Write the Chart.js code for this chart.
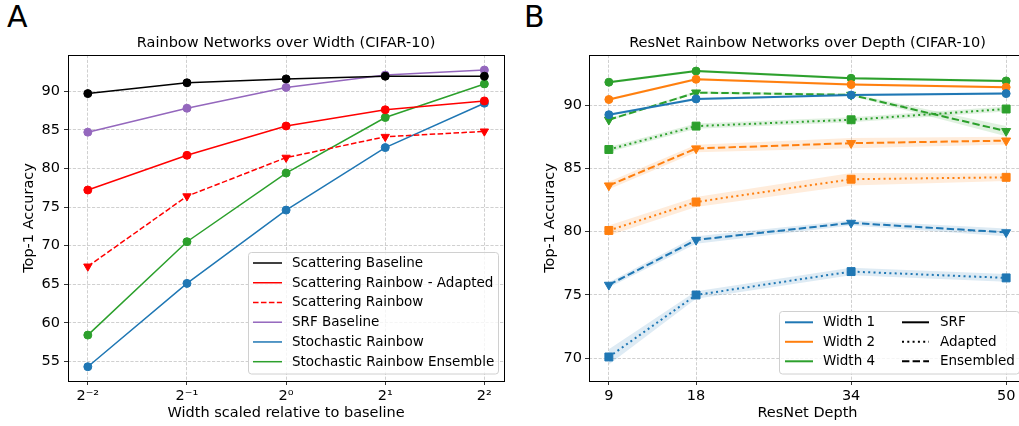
<!DOCTYPE html>
<html>
<head>
<meta charset="utf-8">
<script src="https://cdn.jsdelivr.net/npm/chart.js@4"></script>
<style>
  html, body { margin:0; padding:0; background:#fff; overflow:hidden; width:1019px; height:426px; }
  #wrap { position:relative; width:1019px; height:426px; overflow:hidden; }
  canvas { position:absolute; top:0; }
  .panel { position:absolute; font-family:'DejaVu Sans'; font-size:30px; line-height:30px; color:#000; }
</style>
</head>
<body>
<div id="wrap">
  <div class="panel" style="left:7px; top:2px;">A</div>
  <div class="panel" style="left:524px; top:2px;">B</div>
  <canvas id="c1" style="left:0px; width:510px; height:426px;" width="510" height="426"></canvas>
  <canvas id="c2" style="left:509px; width:530px; height:426px;" width="530" height="426"></canvas>
</div>
<script>
// ---------- Panel A data ----------
const widths = [0.25, 0.5, 1, 2, 4];
const widthTickLabels = ['2\u207B\u00B2', '2\u207B\u00B9', '2\u2070', '2\u00B9', '2\u00B2'];
const scatteringBaseline       = [89.7, 91.1, 91.6, 91.95, 91.95];
const scatteringRainbowAdapted = [77.2, 81.7, 85.5, 87.6, 88.75];
const scatteringRainbow        = [67.3, 76.4, 81.4, 84.1, 84.8];
const srfBaseline              = [84.7, 87.8, 90.5, 92.1, 92.75];
const stochasticRainbow        = [54.3, 65.1, 74.6, 82.7, 88.45];
const stochasticEnsemble       = [58.4, 70.5, 79.4, 86.6, 90.95];
const leftYTicks = [55, 60, 65, 70, 75, 80, 85, 90];
const leftLegendLabels = ['Scattering Baseline', 'Scattering Rainbow - Adapted', 'Scattering Rainbow',
                          'SRF Baseline', 'Stochastic Rainbow', 'Stochastic Rainbow Ensemble'];

// ---------- Panel B data ----------
const depths = [9, 18, 34, 50];
const w1SRF       = [89.25, 90.5, 90.8, 90.92];
const w1SRFStd    = [0.1, 0.1, 0.1, 0.1];
const w1Adapted   = [70.1, 75.0, 76.85, 76.35];
const w1AdaptedStd= [0.6, 0.3, 0.3, 0.3];
const w1Ens       = [75.8, 79.35, 80.7, 79.95];
const w1EnsStd    = [0.2, 0.3, 0.2, 0.3];
const w2SRF       = [90.45, 92.05, 91.63, 91.42];
const w2SRFStd    = [0.1, 0.1, 0.1, 0.1];
const w2Adapted   = [80.1, 82.35, 84.15, 84.3];
const w2AdaptedStd= [0.4, 0.4, 0.5, 0.3];
const w2Ens       = [83.65, 86.58, 87.0, 87.2];
const w2EnsStd    = [0.3, 0.3, 0.4, 0.3];
const w4SRF       = [91.82, 92.7, 92.13, 91.92];
const w4SRFStd    = [0.1, 0.1, 0.1, 0.1];
const w4Adapted   = [86.5, 88.35, 88.85, 89.7];
const w4AdaptedStd= [0.2, 0.2, 0.2, 0.2];
const w4Ens       = [88.85, 91.0, 90.82, 87.95];
const w4EnsStd    = [0.1, 0.1, 0.1, 0.4];
const rightYTicks = [70, 75, 80, 85, 90];
const rightLegendWidths  = ['Width 1', 'Width 2', 'Width 4'];
const rightLegendMethods = ['SRF', 'Adapted', 'Ensembled'];

// ---------- styling ----------
Chart.defaults.font.family = 'DejaVu Sans';
Chart.defaults.font.size = 14.5;
Chart.defaults.color = '#000';
const FS = 14.5;

const BLUE = '#1f77b4', ORANGE = '#ff7f0e', GREEN = '#2ca02c', PURPLE = '#9467bd', RED = '#ff0000', BLACK = '#000000';
function rgba(hex, a) {
  const n = parseInt(hex.slice(1), 16);
  return `rgba(${(n>>16)&255},${(n>>8)&255},${n&255},${a})`;
}
const GRID = { color: '#c4c4c4', lineWidth: 0.8, tickColor: '#000', tickLength: 4, tickWidth: 0.8, tickBorderDash: [] };
const BORDER = { display: false, dash: [3.2, 1.6] };

const framePlugin = {
  id: 'frame',
  afterDraw(chart) {
    const { ctx, chartArea: a } = chart;
    ctx.save();
    ctx.strokeStyle = '#000';
    ctx.lineWidth = 1;
    ctx.setLineDash([]);
    ctx.strokeRect(Math.round(a.left) + 0.5, Math.round(a.top) + 0.5,
                   Math.round(a.right) - Math.round(a.left), Math.round(a.bottom) - Math.round(a.top));
    ctx.restore();
  }
};

const legendPlugin = {
  id: 'boxLegend',
  afterDraw(chart, args, opts) {
    if (!opts || !opts.items) return;
    const ctx = chart.ctx;
    const b = opts.box;
    ctx.save();
    ctx.beginPath();
    const r = 3;
    ctx.moveTo(b.x + r, b.y);
    ctx.arcTo(b.x + b.w, b.y, b.x + b.w, b.y + b.h, r);
    ctx.arcTo(b.x + b.w, b.y + b.h, b.x, b.y + b.h, r);
    ctx.arcTo(b.x, b.y + b.h, b.x, b.y, r);
    ctx.arcTo(b.x, b.y, b.x + b.w, b.y, r);
    ctx.closePath();
    ctx.fillStyle = 'rgba(255,255,255,0.8)';
    ctx.fill();
    ctx.strokeStyle = '#d0d0d0';
    ctx.lineWidth = 1;
    ctx.stroke();
    ctx.font = '13.5px "DejaVu Sans"';
    ctx.textBaseline = 'middle';
    ctx.textAlign = 'left';
    opts.items.forEach(it => {
      ctx.beginPath();
      ctx.setLineDash(it.dash || []);
      ctx.lineCap = 'butt';
      ctx.strokeStyle = it.color;
      ctx.lineWidth = opts.lineWidth;
      ctx.moveTo(it.x0, it.y);
      ctx.lineTo(it.x1, it.y);
      ctx.stroke();
      ctx.setLineDash([]);
      ctx.fillStyle = '#000';
      ctx.fillText(it.label, it.tx, it.y + 0.5);
    });
    ctx.restore();
  }
};

function pts(xs, ys) { return xs.map((x, i) => ({ x: x, y: ys[i] })); }

// ---------- Panel A ----------
function lineA(label, ys, color, style, dash) {
  return {
    label, data: pts(widths, ys), borderColor: color, backgroundColor: color,
    borderWidth: 1.5, borderDash: dash || [], pointStyle: style,
    pointRadius: style === 'triangle' ? 4.8 : 4, pointRotation: style === 'triangle' ? 180 : 0,
    pointBorderWidth: 1, pointBorderColor: color, pointBackgroundColor: color,
    tension: 0, fill: false
  };
}
const leftColors = [BLACK, RED, RED, PURPLE, BLUE, GREEN];
const leftDashes = [[], [], [5.55, 2.4], [], [], []];
const leftItems = leftLegendLabels.map((l, i) => ({
  label: l, color: leftColors[i], dash: leftDashes[i], x0: 253, x1: 282, tx: 292, y: 263 + i * 19.74
}));

new Chart(document.getElementById('c1'), {
  type: 'line',
  data: {
    datasets: [
      lineA('Scattering Baseline', scatteringBaseline, BLACK, 'circle'),
      lineA('Scattering Rainbow - Adapted', scatteringRainbowAdapted, RED, 'circle'),
      lineA('Scattering Rainbow', scatteringRainbow, RED, 'triangle', [5.55, 2.4]),
      lineA('SRF Baseline', srfBaseline, PURPLE, 'circle'),
      lineA('Stochastic Rainbow', stochasticRainbow, BLUE, 'circle'),
      lineA('Stochastic Rainbow Ensemble', stochasticEnsemble, GREEN, 'circle')
    ]
  },
  options: {
    responsive: false, animation: false, devicePixelRatio: 1,
    layout: { padding: { left: 0, right: 5, top: 0, bottom: 0 } },
    plugins: {
      legend: { display: false }, tooltip: { enabled: false },
      title: { display: true, text: 'Rainbow Networks over Width (CIFAR-10)', fullSize: false,
               font: { size: FS, weight: 'normal' }, padding: { top: 34.3, bottom: 3.3 } },
      boxLegend: { box: { x: 248.5, y: 252.5, w: 250, h: 121.5 }, lineWidth: 1.5, items: leftItems }
    },
    scales: {
      x: {
        type: 'logarithmic', min: Math.pow(2, -2.2), max: Math.pow(2, 2.2),
        afterBuildTicks: s => { s.ticks = widths.map(v => ({ value: v })); },
        afterFit: s => { s.height = 45; },
        ticks: { autoSkip: false, maxRotation: 0, padding: 3, font: { size: FS },
                 callback: (v) => { const i = widths.indexOf(v); return i >= 0 ? widthTickLabels[i] : ''; } },
        grid: GRID, border: BORDER,
        title: { display: true, text: 'Width scaled relative to baseline', font: { size: FS }, padding: { top: 0, bottom: 4.3 } }
      },
      y: {
        type: 'linear', min: 52.45, max: 94.7,
        afterBuildTicks: s => { s.ticks = leftYTicks.map(v => ({ value: v })); },
        afterFit: s => { s.width = 68; },
        ticks: { padding: 4, font: { size: FS } },
        grid: GRID, border: BORDER,
        title: { display: true, text: 'Top-1 Accuracy', font: { size: FS }, padding: { top: 20.3, bottom: 0 } }
      }
    }
  },
  plugins: [framePlugin, legendPlugin]
});

// ---------- Panel B ----------
const rightSeries = [
  { color: BLUE,   srf: w1SRF, srfStd: w1SRFStd, ad: w1Adapted, adStd: w1AdaptedStd, en: w1Ens, enStd: w1EnsStd },
  { color: ORANGE, srf: w2SRF, srfStd: w2SRFStd, ad: w2Adapted, adStd: w2AdaptedStd, en: w2Ens, enStd: w2EnsStd },
  { color: GREEN,  srf: w4SRF, srfStd: w4SRFStd, ad: w4Adapted, adStd: w4AdaptedStd, en: w4Ens, enStd: w4EnsStd }
];
const DOT = [2, 3.3], DASH = [7.4, 3.2];
const rightDatasets = [];
function addBand(mean, std, color) {
  rightDatasets.push({ data: pts(depths, mean.map((m, i) => m - std[i])), borderWidth: 0, borderColor: 'rgba(0,0,0,0)',
    pointRadius: 0, fill: false, order: 10, tension: 0 });
  rightDatasets.push({ data: pts(depths, mean.map((m, i) => m + std[i])), borderWidth: 0, borderColor: 'rgba(0,0,0,0)',
    pointRadius: 0, fill: '-1', backgroundColor: rgba(color, 0.15), order: 10, tension: 0 });
}
function addLine(mean, color, style, dash) {
  let r = 4;
  if (style === 'rect') r = 5.6;
  if (style === 'triangle') r = 5.2;
  rightDatasets.push({ data: pts(depths, mean), borderColor: color, backgroundColor: color, borderWidth: 2,
    borderDash: dash, pointStyle: style, pointRadius: r, pointRotation: style === 'triangle' ? 180 : 0,
    pointBackgroundColor: color, pointBorderColor: color, pointBorderWidth: 1, fill: false, order: 0, tension: 0 });
}
rightSeries.forEach(s => {
  addBand(s.srf, s.srfStd, s.color);
  addBand(s.ad, s.adStd, s.color);
  addBand(s.en, s.enStd, s.color);
});
rightSeries.forEach(s => {
  addLine(s.srf, s.color, 'circle', []);
  addLine(s.ad, s.color, 'rect', DOT);
  addLine(s.en, s.color, 'triangle', DASH);
});

const OX = 509;
const rightItems = [];
rightLegendWidths.forEach((l, i) => rightItems.push({ label: l, color: [BLUE, ORANGE, GREEN][i], dash: [],
  x0: 785 - OX, x1: 813 - OX, tx: 823 - OX, y: 322.3 + i * 19.5 }));
rightLegendMethods.forEach((l, i) => rightItems.push({ label: l, color: BLACK, dash: [[], DOT, DASH][i],
  x0: 902 - OX, x1: 929 - OX, tx: 940 - OX, y: 322.3 + i * 19.5 }));

new Chart(document.getElementById('c2'), {
  type: 'line',
  data: { datasets: rightDatasets },
  options: {
    responsive: false, animation: false, devicePixelRatio: 1,
    layout: { padding: { left: 0, right: 13, top: 0, bottom: 0 } },
    plugins: {
      legend: { display: false }, tooltip: { enabled: false },
      title: { display: true, text: 'ResNet Rainbow Networks over Depth (CIFAR-10)', fullSize: false,
               font: { size: FS, weight: 'normal' }, padding: { top: 34.3, bottom: 3.3 } },
      boxLegend: { box: { x: 779.5 - OX, y: 311.5, w: 240, h: 62.5 }, lineWidth: 2, items: rightItems }
    },
    scales: {
      x: {
        type: 'linear', min: 6.95, max: 52.05,
        afterBuildTicks: s => { s.ticks = depths.map(v => ({ value: v })); },
        afterFit: s => { s.height = 45; },
        ticks: { autoSkip: false, maxRotation: 0, padding: 3, font: { size: FS } },
        grid: GRID, border: BORDER,
        title: { display: true, text: 'ResNet Depth', font: { size: FS }, padding: { top: 0, bottom: 4.3 } }
      },
      y: {
        type: 'linear', min: 68.2, max: 93.97,
        afterBuildTicks: s => { s.ticks = rightYTicks.map(v => ({ value: v })); },
        afterFit: s => { s.width = 80; },
        ticks: { padding: 3, font: { size: FS } },
        grid: GRID, border: BORDER,
        title: { display: true, text: 'Top-1 Accuracy', font: { size: FS }, padding: { top: 32.3, bottom: 0 } }
      }
    }
  },
  plugins: [framePlugin, legendPlugin]
});
</script>
</body>
</html>
